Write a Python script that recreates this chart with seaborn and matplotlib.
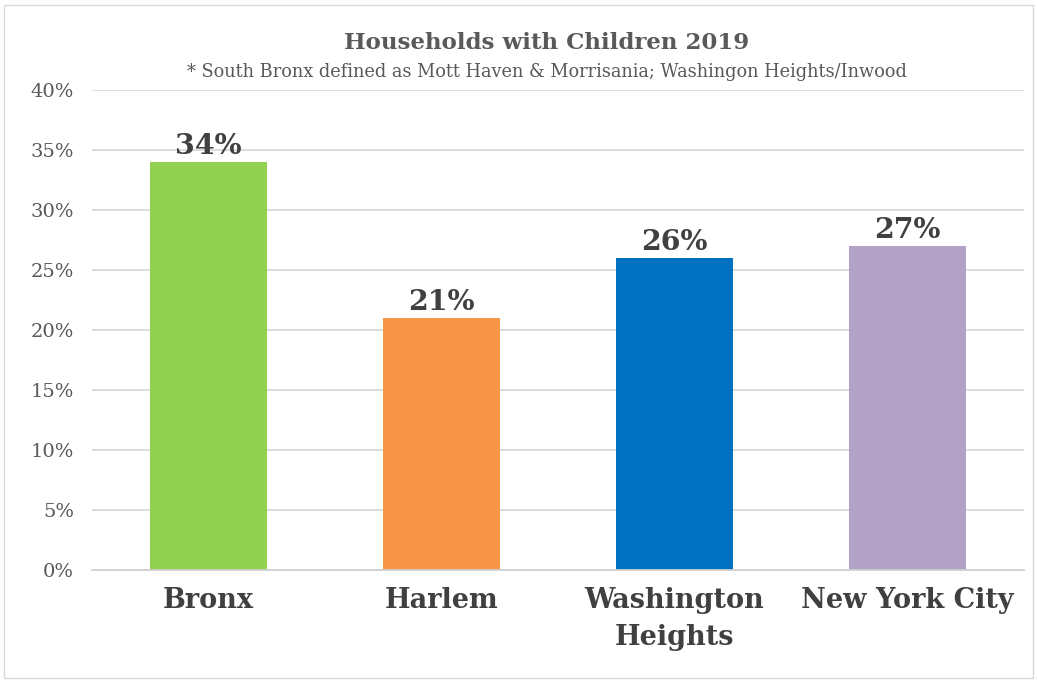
import matplotlib
matplotlib.use("Agg")
import matplotlib.pyplot as plt
import seaborn as sns
import pandas as pd
from matplotlib.patches import Rectangle
from matplotlib.ticker import FuncFormatter

categories = ["Bronx", "Harlem", "Washington\nHeights", "New York City"]
values = [34, 21, 26, 27]
colors = ["#92D050", "#F79646", "#0070C0", "#B3A2C7"]
yticks = [0, 5, 10, 15, 20, 25, 30, 35, 40]

sns.set_theme(style="white")
plt.rcParams['font.family'] = ['DejaVu Serif', 'DejaVu Sans']

df = pd.DataFrame({"cat": categories, "val": values})

fig = plt.figure(figsize=(10.37, 6.81), dpi=100)
ax = fig.add_axes([0.0887, 0.163, 0.8988, 0.705])
sns.barplot(data=df, x="cat", y="val", hue="cat", palette=colors, legend=False,
            width=0.5, ax=ax, saturation=1, linewidth=0)

ax.set_ylim(0, 40)
ax.set_xlim(-0.5, 3.5)
ax.set_yticks(yticks)
ax.yaxis.set_major_formatter(FuncFormatter(lambda v, p: f"{int(v)}%"))
ax.grid(axis="y", color="#D9D9D9", linewidth=1.3)
ax.set_axisbelow(True)
for s in ["top", "right", "left"]:
    ax.spines[s].set_visible(False)
ax.spines["bottom"].set_color("#D0D0D0")
ax.spines["bottom"].set_linewidth(1.3)
ax.set_xlabel("")
ax.set_ylabel("")
ax.tick_params(axis="y", length=0, labelsize=14, labelcolor="#595959", pad=13)
ax.tick_params(axis="x", length=0, labelsize=19.5, labelcolor="#404040", pad=12)
for lbl in ax.get_xticklabels():
    lbl.set_fontweight("bold")
    lbl.set_linespacing(1.5)
    lbl.set_verticalalignment("top")

for i, v in enumerate(values):
    ax.text(i, v + 0.15, f"{v}%", ha="center", va="bottom", fontsize=20.5,
            fontweight="bold", color="#404040")

fig.text(0.527, 0.937, "Households with Children 2019", ha="center", va="center",
         fontsize=16.5, fontweight="bold", color="#595959")
fig.text(0.527, 0.894, "* South Bronx defined as Mott Haven & Morrisania; Washingon Heights/Inwood",
         ha="center", va="center", fontsize=12.8, color="#595959")

fig.patches.append(Rectangle((0.004, 0.004), 0.992, 0.989, transform=fig.transFigure,
                             fill=False, edgecolor="#D9D9D9", linewidth=1))

fig.savefig("out.png", dpi=100)
